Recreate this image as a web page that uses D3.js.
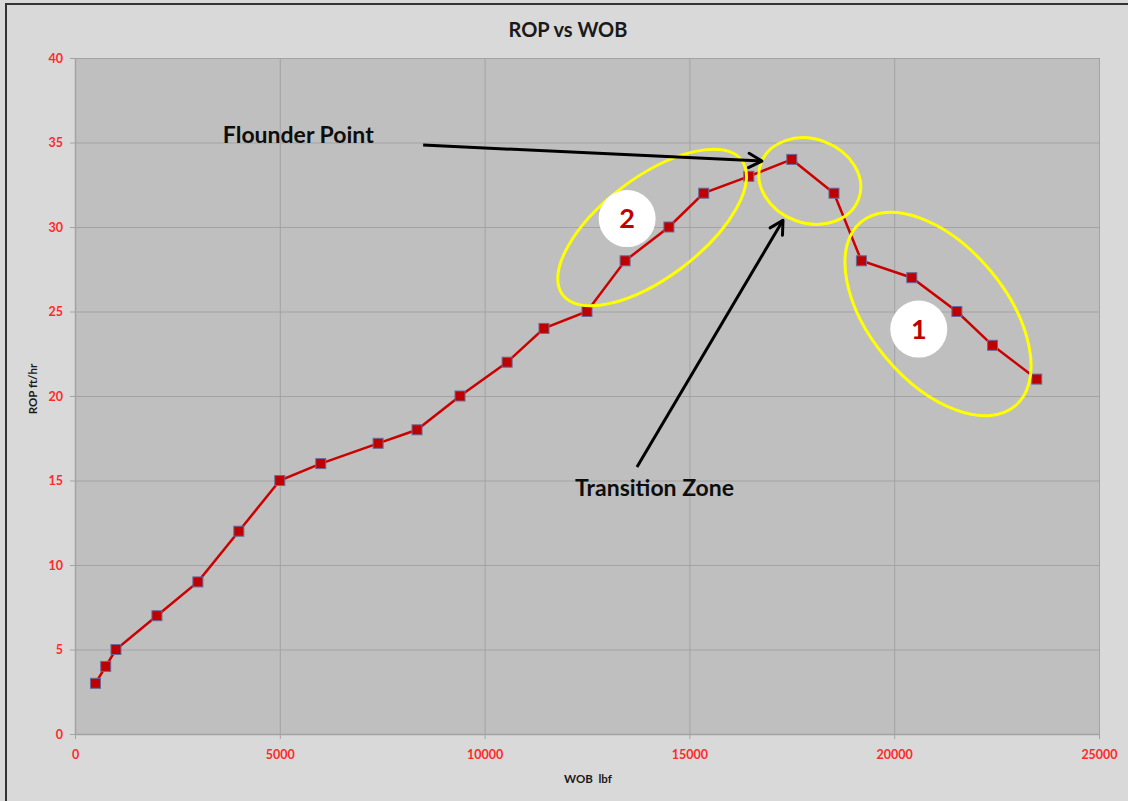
<!DOCTYPE html>
<html>
<head>
<meta charset="utf-8">
<script src="https://cdn.jsdelivr.net/npm/d3@7"></script>
<style>
  body { margin: 0; background: #d9d9d9; }
  svg { display: block; }
</style>
</head>
<body>
<div id="chart"></div>
<script>
// Data
var wob = [500, 750, 1000, 2000, 3000, 4000, 5000, 6000, 7400, 8350, 9400, 10550,
           11450, 12500, 13430, 14500, 15350, 16450, 17500, 18530, 19200, 20430,
           21530, 22400, 23480];
var rop = [3, 4, 5, 7, 9, 12, 15, 16, 17.2, 18, 20, 22, 24, 25, 28, 30, 32, 33, 34,
           32, 28, 27, 25, 23, 21];
var xTicks = [0, 5000, 10000, 15000, 20000, 25000];
var yTicks = [0, 5, 10, 15, 20, 25, 30, 35, 40];

// Set svg width and height
var svgWidth = 1128;
var svgHeight = 801;

var margin = { top: 58, right: 29, bottom: 67, left: 75 };
var chartWidth = svgWidth - margin.left - margin.right;
var chartHeight = svgHeight - margin.top - margin.bottom;

var svg = d3.select('#chart')
    .append('svg')
    .attr('width', svgWidth)
    .attr('height', svgHeight);

// Outer frame (only left and top edges are inside the picture)
svg.append('rect')
    .attr('x', 6).attr('y', 4)
    .attr('width', svgWidth + 10).attr('height', svgHeight + 10)
    .attr('fill', '#d9d9d9')
    .attr('stroke', '#333')
    .attr('stroke-width', 2);

var chartGroup = svg.append('g')
    .attr('transform', `translate(${margin.left}, ${margin.top})`);

// Scales
var xScale = d3.scaleLinear().domain([0, 25000]).range([0, chartWidth]);
var yScale = d3.scaleLinear().domain([0, 40]).range([chartHeight, 0]);

// Plot area
chartGroup.append('rect')
    .attr('width', chartWidth)
    .attr('height', chartHeight)
    .attr('fill', '#bfbfbf');

// Grid lines
chartGroup.append('g')
    .attr('class', 'grid')
    .attr('transform', `translate(0, ${chartHeight})`)
    .call(d3.axisBottom(xScale).tickValues(xTicks).tickSize(-chartHeight).tickFormat(''))
    .call(g => g.select('.domain').remove());

chartGroup.append('g')
    .attr('class', 'grid')
    .call(d3.axisLeft(yScale).tickValues(yTicks).tickSize(-chartWidth).tickFormat(''))
    .call(g => g.select('.domain').remove());

chartGroup.selectAll('.grid line')
    .attr('stroke', '#a3a3a3')
    .attr('stroke-width', 1);

// Axes
var xAxis = chartGroup.append('g')
    .attr('transform', `translate(0, ${chartHeight})`)
    .call(d3.axisBottom(xScale).tickValues(xTicks).tickFormat(d3.format('d'))
        .tickSize(5).tickPadding(11).tickSizeOuter(0));

var yAxis = chartGroup.append('g')
    .call(d3.axisLeft(yScale).tickValues(yTicks).tickFormat(d3.format('d'))
        .tickSize(5).tickPadding(7).tickSizeOuter(0));

[xAxis, yAxis].forEach(function(ax) {
    ax.select('.domain').attr('stroke', '#a3a3a3').attr('stroke-width', 1.5);
    ax.selectAll('.tick line').attr('stroke', '#a3a3a3');
    ax.selectAll('.tick text')
        .attr('fill', '#ff2a2a')
        .attr('font-family', 'Lato, "Open Sans", sans-serif')
        .attr('font-weight', 'bold')
        .attr('font-size', '12.5px');
});

// Line
var line = d3.line()
    .x((d, i) => xScale(wob[i]))
    .y(d => yScale(d));

chartGroup.append('path')
    .datum(rop)
    .attr('d', line)
    .attr('fill', 'none')
    .attr('stroke', '#cc0000')
    .attr('stroke-width', 2.5);

// Square markers
chartGroup.selectAll('.marker')
    .data(rop)
    .enter()
    .append('rect')
    .attr('class', 'marker')
    .attr('x', (d, i) => xScale(wob[i]) - 5)
    .attr('y', d => yScale(d) - 5)
    .attr('width', 10)
    .attr('height', 10)
    .attr('fill', '#c00000')
    .attr('stroke', '#6a6a9a')
    .attr('stroke-width', 1);

// Annotations (data coordinates)
var ellipses = [
    { x: 14090, y: 29.97, rx: 112, ry: 50, angle: -37 },
    { x: 17940, y: 32.72, rx: 52, ry: 42, angle: 20 },
    { x: 21070, y: 24.85, rx: 120, ry: 68, angle: 50 }
];
var badges = [
    { x: 13480, y: 30.5, label: '2' },
    { x: 20600, y: 23.96, label: '1' }
];
var arrows = [
    { x1: 8500, y1: 34.85, x2: 16770, y2: 33.9 },
    { x1: 13720, y1: 15.8, x2: 17285, y2: 30.4 }
];
var notes = [
    { x: 3610, y: 34.97, text: 'Flounder Point' },
    { x: 12210, y: 14.08, text: 'Transition Zone' }
];

chartGroup.selectAll('.ellipse')
    .data(ellipses)
    .enter()
    .append('ellipse')
    .attr('transform', d => `translate(${xScale(d.x)}, ${yScale(d.y)}) rotate(${d.angle})`)
    .attr('rx', d => d.rx)
    .attr('ry', d => d.ry)
    .attr('fill', 'none')
    .attr('stroke', '#ffff00')
    .attr('stroke-width', 3);

var badge = chartGroup.selectAll('.badge')
    .data(badges)
    .enter()
    .append('g')
    .attr('transform', d => `translate(${xScale(d.x)}, ${yScale(d.y)})`);

badge.append('circle')
    .attr('r', 28.5)
    .attr('fill', '#ffffff');

badge.append('text')
    .attr('text-anchor', 'middle')
    .attr('dy', '0.36em')
    .attr('font-family', 'Lato, "Open Sans", sans-serif')
    .attr('font-weight', 'bold')
    .attr('font-size', '27px')
    .attr('fill', '#c00000')
    .text(d => d.label);

// Arrows with open chevron heads
arrows.forEach(function(a) {
    var x1 = xScale(a.x1), y1 = yScale(a.y1), x2 = xScale(a.x2), y2 = yScale(a.y2);
    var ang = Math.atan2(y2 - y1, x2 - x1);
    var h = 15, spread = 0.5;
    chartGroup.append('line')
        .attr('x1', x1).attr('y1', y1)
        .attr('x2', x2).attr('y2', y2)
        .attr('stroke', '#000')
        .attr('stroke-width', 3);
    chartGroup.append('path')
        .attr('d', `M${x2 - h * Math.cos(ang - spread)},${y2 - h * Math.sin(ang - spread)}` +
                   `L${x2},${y2}` +
                   `L${x2 - h * Math.cos(ang + spread)},${y2 - h * Math.sin(ang + spread)}`)
        .attr('fill', 'none')
        .attr('stroke', '#000')
        .attr('stroke-width', 3)
        .attr('stroke-linecap', 'round')
        .attr('stroke-linejoin', 'round');
});

chartGroup.selectAll('.note')
    .data(notes)
    .enter()
    .append('text')
    .attr('x', d => xScale(d.x))
    .attr('y', d => yScale(d.y))
    .attr('font-family', 'Lato, "Open Sans", sans-serif')
    .attr('font-weight', 'bold')
    .attr('font-size', '23px')
    .attr('fill', '#0d0d0d')
    .text(d => d.text);

// Title and axis labels
svg.append('text')
    .attr('x', 568)
    .attr('y', 37)
    .attr('text-anchor', 'middle')
    .attr('font-family', 'Lato, "Open Sans", sans-serif')
    .attr('font-weight', 'bold')
    .attr('font-size', '20px')
    .attr('fill', '#1a1a1a')
    .text('ROP vs WOB');

svg.append('text')
    .attr('x', 588)
    .attr('y', 783)
    .attr('text-anchor', 'middle')
    .attr('font-family', 'Lato, "Open Sans", sans-serif')
    .attr('font-weight', 'bold')
    .attr('font-size', '11.5px')
    .attr('fill', '#1a1a1a')
    .attr('xml:space', 'preserve')
    .text('WOB  lbf');

svg.append('text')
    .attr('transform', 'translate(37, 389) rotate(-90)')
    .attr('text-anchor', 'middle')
    .attr('font-family', 'Lato, "Open Sans", sans-serif')
    .attr('font-weight', 'bold')
    .attr('font-size', '11.5px')
    .attr('fill', '#1a1a1a')
    .text('ROP ft/hr');
</script>
</body>
</html>
